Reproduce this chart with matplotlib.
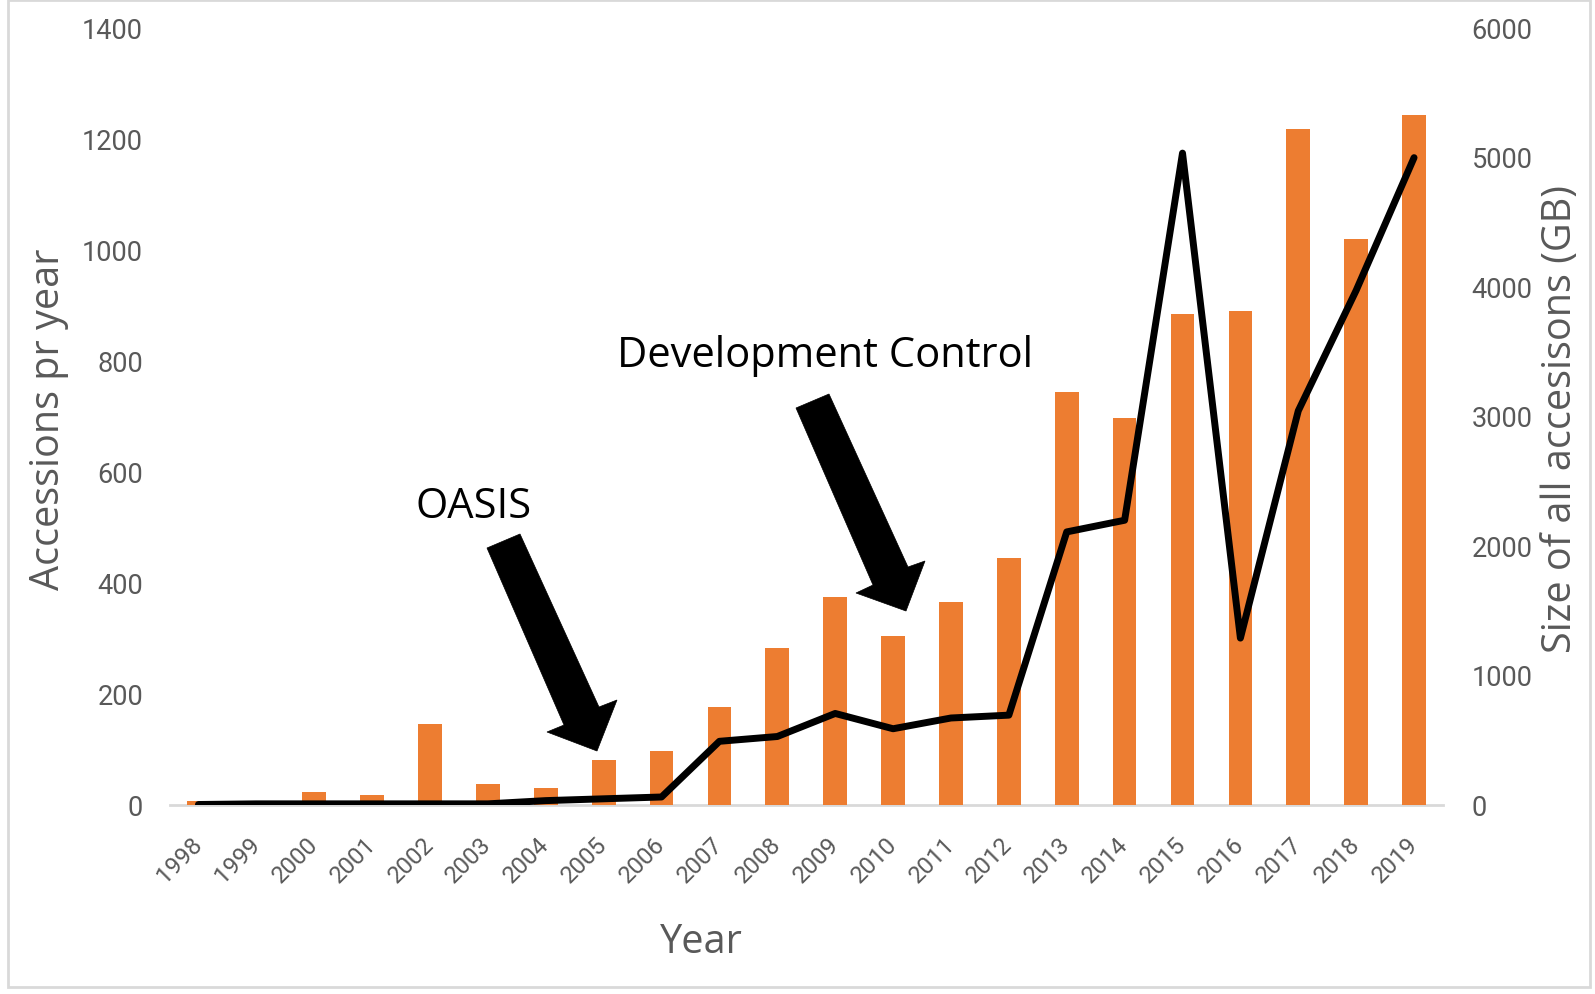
import matplotlib
matplotlib.use("Agg")
import matplotlib.pyplot as plt
from matplotlib import font_manager
from matplotlib.patches import Polygon, Rectangle

years = ["1998", "1999", "2000", "2001", "2002", "2003", "2004", "2005", "2006", "2007", "2008",
         "2009", "2010", "2011", "2012", "2013", "2014", "2015", "2016", "2017", "2018", "2019"]
accessions = [6, 2, 23, 17, 145, 37, 29, 80, 97, 175, 282,
              373, 303, 364, 444, 744, 696, 883, 890, 1218, 1019, 1243]
size_gb = [0, 5, 5, 5, 5, 5, 30, 44, 58, 488, 525,
           703, 585, 668, 690, 2105, 2195, 5030, 1285, 3040, 3970, 4995]

left_ticks = [0, 200, 400, 600, 800, 1000, 1200, 1400]
right_ticks = [0, 1000, 2000, 3000, 4000, 5000, 6000]

names = {f.name for f in font_manager.fontManager.ttflist}
tick_font = "Roboto" if "Roboto" in names else "DejaVu Sans"
label_font = "Open Sans" if "Open Sans" in names else "DejaVu Sans"
note_font = "Open Sans" if "Open Sans" in names else "DejaVu Sans"

W, H = 1595, 995
fig = plt.figure(figsize=(W / 100, H / 100), dpi=100)

def fx(x):
    return x / W

def fy(y):
    return 1 - y / H

ax_l, ax_r, ax_t, ax_b = 169.5, 1443, 28.5, 805.5
ax = fig.add_axes([fx(ax_l), fy(ax_b), fx(ax_r - ax_l), (ax_b - ax_t) / H])
ax2 = ax.twinx()

gray = "#595959"
x = list(range(len(years)))
ax.bar(x, accessions, width=0.41, color="#ED7D31", zorder=2)
ax.set_xlim(-0.5, len(years) - 0.5)
ax.set_ylim(0, 1400)
ax2.set_ylim(0, 6000)
ax.axhline(0, color="#d9d9d9", lw=2, zorder=1, clip_on=False)
ax2.plot(x, size_gb, color="black", lw=5, solid_joinstyle="round", solid_capstyle="round", zorder=3)

for a in (ax, ax2):
    for s in a.spines.values():
        s.set_visible(False)
    a.tick_params(length=0)

ax.set_yticks(left_ticks)
ax.set_yticklabels([str(v) for v in left_ticks], fontsize=19.5, color=gray, family=tick_font)
ax.tick_params(axis="y", pad=19)
ax2.set_yticks(right_ticks)
ax2.set_yticklabels([str(v) for v in right_ticks], fontsize=19.5, color=gray, family=tick_font)
ax2.tick_params(axis="y", pad=20.5)

ax.set_xticks(x)
ax.set_xticklabels(years, rotation=45, ha="right", va="center", rotation_mode="anchor",
                   fontsize=17.3, color=gray, family=tick_font)
ax.tick_params(axis="x", pad=26)

fig.text(fx(49), fy(419), "Accessions pr year", rotation=90, ha="center", va="center",
         fontsize=28.5, color=gray, family=label_font)
fig.text(fx(1561), fy(419), "Size of all accesisons (GB)", rotation=90, ha="center", va="center",
         fontsize=28.5, color=gray, family=label_font)
fig.text(fx(701), fy(953), "Year", ha="center", va="baseline", fontsize=28.5, color=gray, family=label_font)

fig.text(fx(474), fy(507), "OASIS", ha="center", va="center", fontsize=30, color="black", family=note_font)
fig.text(fx(825), fy(356), "Development Control", ha="center", va="center", fontsize=30,
         color="black", family=note_font)

arrows = [
    [(487, 549), (520, 535), (599, 708), (617, 701), (597, 752), (547, 733), (564, 726)],
    [(796, 409), (829, 395), (908, 568), (925, 562), (906, 612), (856, 594), (873, 586)],
]
for pts in arrows:
    poly = Polygon([(fx(px), fy(py)) for px, py in pts], closed=True, transform=fig.transFigure,
                   facecolor="black", edgecolor="black", lw=0.5, zorder=10)
    fig.patches.append(poly)

border = Rectangle((fx(8), fy(988)), fx(1590 - 8), (988 - 1) / H, transform=fig.transFigure,
                   fill=False, edgecolor="#d9d9d9", lw=2)
fig.patches.append(border)

fig.savefig("out.png", dpi=100)
